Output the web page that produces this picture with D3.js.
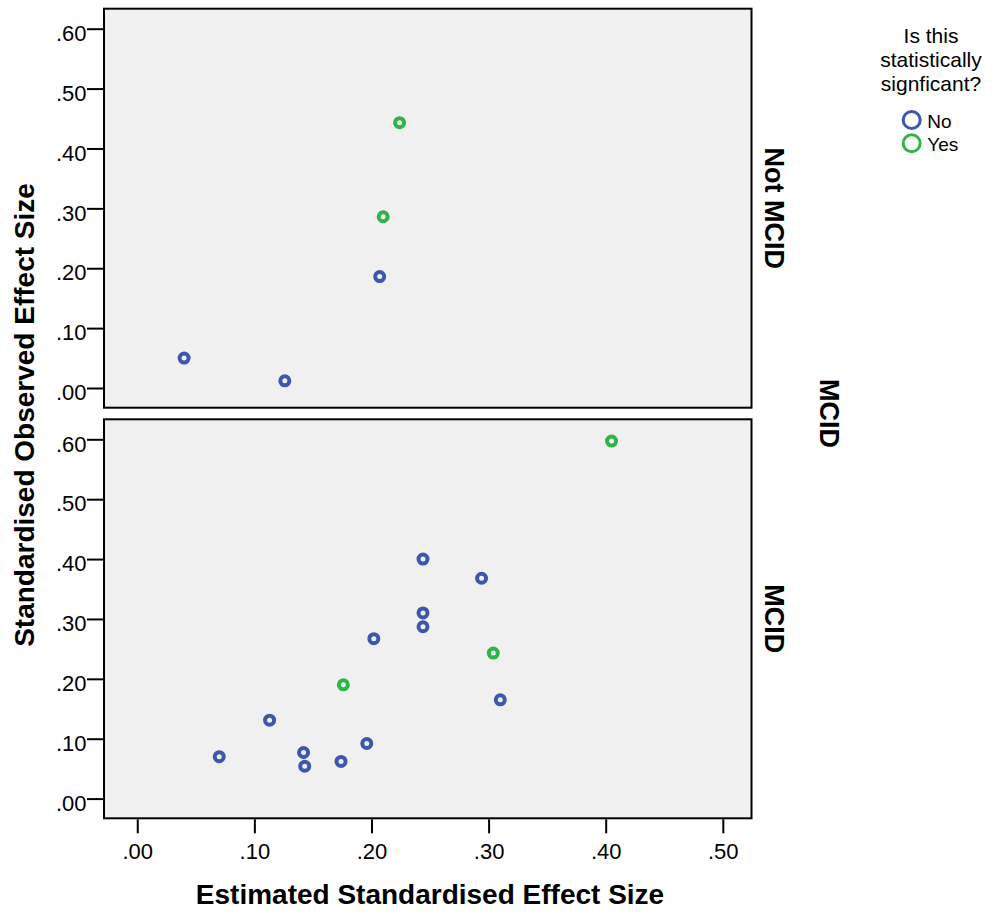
<!DOCTYPE html>
<html>
<head>
<meta charset="utf-8">
<script src="https://cdn.jsdelivr.net/npm/d3@7"></script>
<style>
  html, body { margin: 0; padding: 0; background: #ffffff; }
  svg { display: block; font-family: "Liberation Sans", Arial, sans-serif; }
</style>
</head>
<body>
<svg id="chart" width="1000" height="912"></svg>
<script>
// ---------- data ----------
const panelNames = ["Not MCID", "MCID"];
const outerStrip = "MCID";
const sigCategories = ["No", "Yes"];
const legendTitle = ["Is this", "statistically", "signficant?"];

const notMcidX   = [0.040, 0.126, 0.207, 0.210, 0.224];
const notMcidY   = [0.050, 0.012, 0.186, 0.286, 0.443];
const notMcidSig = ["No", "No", "No", "Yes", "Yes"];

const mcidX   = [0.244, 0.294, 0.244, 0.244, 0.202, 0.304, 0.176, 0.310, 0.113, 0.070, 0.142, 0.143, 0.174, 0.196, 0.405];
const mcidY   = [0.400, 0.368, 0.310, 0.287, 0.267, 0.243, 0.190, 0.165, 0.131, 0.070, 0.077, 0.054, 0.062, 0.092, 0.597];
const mcidSig = ["No", "No", "No", "No", "No", "Yes", "Yes", "No", "No", "No", "No", "No", "No", "No", "Yes"];

const xTickValues = [0, 0.1, 0.2, 0.3, 0.4, 0.5];
const xTickLabels = [".00", ".10", ".20", ".30", ".40", ".50"];
const yTickValues = [0, 0.1, 0.2, 0.3, 0.4, 0.5, 0.6];
const yTickLabels = [".00", ".10", ".20", ".30", ".40", ".50", ".60"];

const xTitle = "Estimated Standardised Effect Size";
const yTitle = "Standardised Observed Effect Size";

// ---------- layout ----------
const svg = d3.select("#chart");
const plotLeft = 104, plotRight = 751.5;
const panelTops = [8.7, 419.3];
const panelH = 399;

const color = d3.scaleOrdinal().domain(sigCategories).range(["#3d57ad", "#2db54a"]);
const x = d3.scaleLinear().domain([-0.0284, 0.5245]).range([plotLeft, plotRight]);

const panelData = [
  notMcidX.map((v, i) => ({ x: v, y: notMcidY[i], sig: notMcidSig[i] })),
  mcidX.map((v, i) => ({ x: v, y: mcidY[i], sig: mcidSig[i] }))
];

panelNames.forEach((name, p) => {
  const top = panelTops[p];
  const y = d3.scaleLinear().domain([-0.0329, 0.6334]).range([top + panelH, top]);

  // panel background
  svg.append("rect")
    .attr("x", plotLeft).attr("y", top)
    .attr("width", plotRight - plotLeft).attr("height", panelH)
    .attr("fill", "#f0f0f0");

  // y axis
  const ya = svg.append("g")
    .attr("transform", `translate(${plotLeft},0)`)
    .call(d3.axisLeft(y).tickValues(yTickValues).tickSize(17)
      .tickFormat((d, i) => yTickLabels[i]));
  ya.select(".domain").remove();
  ya.selectAll(".tick line").attr("stroke", "#000").attr("stroke-width", 2);
  ya.selectAll(".tick text")
    .attr("x", -17.5).attr("dy", null).attr("y", 11.7)
    .attr("fill", "#000")
    .style("font-family", '"Liberation Sans", Arial, sans-serif')
    .style("font-size", "22px");

  // points
  svg.append("g").selectAll("circle")
    .data(panelData[p])
    .join("circle")
    .attr("cx", d => x(d.x))
    .attr("cy", d => y(d.y))
    .attr("r", 4.5)
    .attr("fill", "none")
    .attr("stroke", d => color(d.sig))
    .attr("stroke-width", 4);

  // panel border
  svg.append("rect")
    .attr("x", plotLeft).attr("y", top)
    .attr("width", plotRight - plotLeft).attr("height", panelH)
    .attr("fill", "none").attr("stroke", "#000").attr("stroke-width", 2);

  // strip label
  const cy = top + panelH / 2;
  svg.append("text")
    .attr("transform", `translate(765,${cy}) rotate(90)`)
    .attr("text-anchor", "middle")
    .style("font-size", "27px").style("font-weight", "bold")
    .text(name);
});

// x axis (bottom panel only)
const xa = svg.append("g")
  .attr("transform", `translate(0,${panelTops[1] + panelH + 1})`)
  .call(d3.axisBottom(x).tickValues(xTickValues).tickSize(14)
    .tickFormat((d, i) => xTickLabels[i]));
xa.select(".domain").remove();
xa.selectAll(".tick line").attr("stroke", "#000").attr("stroke-width", 2);
xa.selectAll(".tick text")
  .attr("y", 40).attr("dy", null)
  .attr("fill", "#000")
  .style("font-family", '"Liberation Sans", Arial, sans-serif')
  .style("font-size", "22px");

// outer strip label
svg.append("text")
  .attr("transform", `translate(820,${(panelTops[0] + panelTops[1] + panelH) / 2}) rotate(90)`)
  .attr("text-anchor", "middle")
  .style("font-size", "27px").style("font-weight", "bold")
  .text(outerStrip);

// axis titles
svg.append("text")
  .attr("x", 430).attr("y", 904)
  .attr("text-anchor", "middle")
  .style("font-size", "28px").style("font-weight", "bold")
  .text(xTitle);

svg.append("text")
  .attr("transform", `translate(33.5,415) rotate(-90)`)
  .attr("text-anchor", "middle")
  .style("font-size", "28px").style("font-weight", "bold")
  .text(yTitle);

// legend
const lg = svg.append("g");
lg.selectAll("text.title")
  .data(legendTitle)
  .join("text")
  .attr("class", "title")
  .attr("x", 931)
  .attr("y", (d, i) => 42.5 + i * 24)
  .attr("text-anchor", "middle")
  .style("font-size", "21px")
  .text(d => d);

const items = lg.selectAll("g.item")
  .data(sigCategories)
  .join("g")
  .attr("class", "item")
  .attr("transform", (d, i) => `translate(911.7,${120 + i * 23.3})`);
items.append("circle")
  .attr("r", 8.5)
  .attr("fill", "none")
  .attr("stroke", d => color(d))
  .attr("stroke-width", 3);
items.append("text")
  .attr("x", 15.5).attr("y", 8)
  .style("font-size", "19px")
  .text(d => d);
</script>
</body>
</html>
